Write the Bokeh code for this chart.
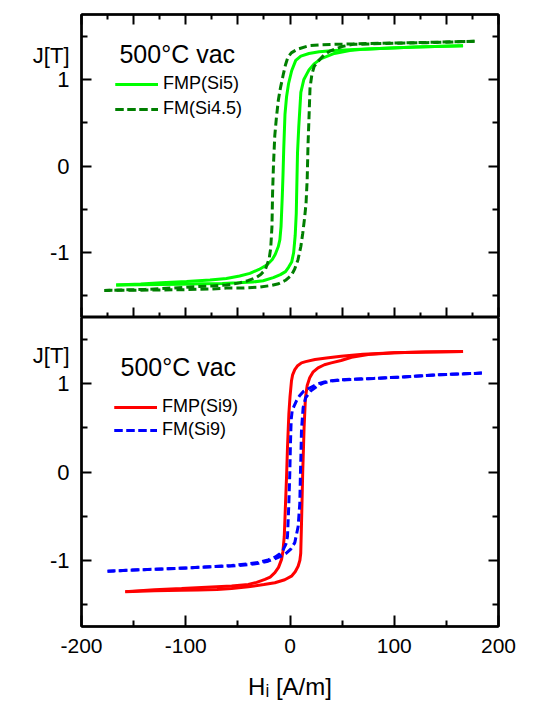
from bokeh.plotting import figure
from bokeh.models import Range1d, LinearAxis, FixedTicker, Legend, LegendItem, Label
from bokeh.layouts import column
from bokeh.embed import file_html
from bokeh.resources import INLINE

FONT = "Liberation Sans"

# ---------------- data: top panel (500°C vac) ----------------
# FMP(Si5) – descending branch
h_si5_down = [166, 121, 91.5, 62, 42.6, 28, 18.2, 10.4, 5.5, 1.6, -1.4, -3.3, -4.8, -6.0, -6.7,
              -7.4, -8.6, -9.7, -11.2, -14.1, -17, -21.9, -29.7, -38.5, -48.3, -61, -76.7,
              -99.2, -123.6, -143.2, -166.7]
j_si5_down = [1.39, 1.375, 1.36, 1.345, 1.335, 1.32, 1.30, 1.27, 1.22, 1.1, 0.95, 0.8, 0.6, 0.2,
              -0.1, -0.35, -0.7, -0.85, -0.93, -1.02, -1.08, -1.14, -1.195, -1.24, -1.27, -1.30,
              -1.318, -1.335, -1.35, -1.362, -1.375]
# FMP(Si5) – ascending branch
h_si5_up = [-166.7, -143.2, -123.6, -104.1, -84.5, -64.9, -50.3, -35.6, -25.8, -16.0, -9.2, -4.3,
            -1.4, 1.6, 3.5, 5.0, 6.0, 6.6, 7.2, 8.4, 10.4, 13.3, 18.2, 23.1, 29.9, 42.6, 57.3,
            72.0, 91.5, 121, 166]
j_si5_up = [-1.375, -1.372, -1.37, -1.365, -1.36, -1.356, -1.35, -1.34, -1.325, -1.29, -1.255,
            -1.22, -1.17, -1.11, -1.0, -0.8, -0.55, -0.2, 0.15, 0.45, 0.85, 1.0, 1.11, 1.18, 1.24,
            1.3, 1.335, 1.35, 1.36, 1.375, 1.39]
# FM(Si4.5) – descending branch
h_si45_down = [177, 121, 77, 42.6, 28.9, 18.2, 7.4, 1.6, -1.9, -4.3, -6.3, -9.2, -11.2, -13.1,
               -14.6, -15.8, -16.7, -17.3, -18.5, -20, -23.6, -27.8, -32.7, -40.5, -48.3, -61,
               -74.7, -92.3, -113.8, -138.3, -162.7, -178]
j_si45_down = [1.44, 1.425, 1.415, 1.405, 1.40, 1.39, 1.35, 1.31, 1.26, 1.17, 1.065, 0.9, 0.76,
               0.55, 0.35, 0.03, -0.31, -0.7, -0.95, -1.07, -1.195, -1.25, -1.29, -1.325, -1.35,
               -1.375, -1.385, -1.394, -1.41, -1.425, -1.432, -1.437]
# FM(Si4.5) – ascending branch
h_si45_up = [-178, -153, -124, -104, -75, -61, -45, -30, -18, -11, -4.3, 1.4, 4.5, 7.6, 10.4,
             12.2, 14, 15.4, 16.5, 17.3, 18.2, 19.2, 21, 23.2, 26.2, 32.5, 38.7, 50, 60.5, 91.5,
             131, 177]
j_si45_up = [-1.437, -1.435, -1.432, -1.43, -1.42, -1.41, -1.41, -1.40, -1.38, -1.36, -1.32,
             -1.26, -1.19, -1.085, -0.93, -0.78, -0.6, -0.43, -0.15, 0.25, 0.55, 0.9, 1.06, 1.15,
             1.2, 1.28, 1.33, 1.38, 1.405, 1.415, 1.425, 1.44]

# ---------------- data: bottom panel (500°C vac) ----------------
# FMP(Si9) – descending branch
h_si9p_down = [166, 130, 100, 70, 49, 35, 24, 15, 11, 7, 4.6, 2.5, 1.4, 0, -1.1, -2.4, -3.3,
               -4.3, -5.5, -6.8, -8.1, -11, -14.5, -19, -24, -32, -40, -56, -80, -104, -130, -158]
j_si9p_down = [1.366, 1.36, 1.35, 1.335, 1.31, 1.29, 1.274, 1.25, 1.236, 1.2, 1.16, 1.1, 1.03,
               0.85, 0.656, 0.28, -0.05, -0.355, -0.73, -0.9, -0.99, -1.08, -1.14, -1.19, -1.217,
               -1.25, -1.273, -1.29, -1.305, -1.32, -1.335, -1.355]
# FMP(Si9) – ascending branch
h_si9p_up = [-158, -130, -104, -88, -70, -56, -40, -25, -14.5, -5, 1.4, 5, 7.8, 9.5, 10.3, 11,
             11.6, 12.2, 13, 13.5, 14.8, 16.5, 18.9, 22, 26.9, 33, 39.6, 49, 59, 75, 100, 130, 166]
j_si9p_up = [-1.355, -1.345, -1.34, -1.337, -1.33, -1.32, -1.30, -1.275, -1.254, -1.22, -1.18,
             -1.13, -1.067, -1.0, -0.92, -0.6, -0.3, 0.0, 0.3, 0.5, 0.84, 0.98, 1.067, 1.13, 1.18,
             1.215, 1.236, 1.263, 1.30, 1.33, 1.35, 1.36, 1.366]
# FM(Si9) – descending branch
h_si9_down = [184, 140, 106, 80, 58.7, 49, 40, 33, 27, 22, 17, 12.6, 9, 6.2, 4, 2.1, 1.2, 0.8,
              0.3, -0.2, -1.1, -2.4, -4, -6.5, -10, -14.5, -21, -30, -40, -56, -72, -95, -120,
              -150, -175]
j_si9_down = [1.12, 1.10, 1.075, 1.06, 1.05, 1.045, 1.035, 1.02, 1.0, 0.97, 0.94, 0.91, 0.86,
              0.806, 0.75, 0.693, 0.6, 0.47, 0.25, -0.02, -0.355, -0.73, -0.82, -0.88, -0.93,
              -0.965, -0.995, -1.025, -1.04, -1.06, -1.07, -1.085, -1.097, -1.11, -1.124]
# FM(Si9) – ascending branch
h_si9_up = [-175, -150, -120, -95, -72, -56, -40, -30, -21, -14, -8, -3.3, 1, 4.6, 7.8, 9.4, 10,
            10.5, 11, 12.6, 15, 17.4, 20, 24, 27, 33, 40, 49, 58.7, 80, 106, 140, 184]
j_si9_up = [-1.124, -1.11, -1.097, -1.085, -1.07, -1.065, -1.05, -1.035, -1.01, -0.98, -0.95,
            -0.917, -0.87, -0.80, -0.618, -0.355, -0.02, 0.2, 0.47, 0.73, 0.84, 0.88, 0.92, 0.955,
            0.98, 1.011, 1.03, 1.04, 1.048, 1.06, 1.075, 1.10, 1.12]

# ---------------- ticks ----------------
y_major = [-1, 0, 1]
y_minor = [-1.5, -0.5, 0.5, 1.5]
y_labels = {-1: "-1", 0: "0", 1: "1"}
x_top_major = [-200, -150, -100, -50, 0, 50, 100, 150, 200]
x_top_minor = [-175, -125, -75, -25, 25, 75, 125, 175]
x_bot_major = [-200, -100, 0, 100, 200]
x_bot_minor = [-150, -50, 50, 150]
x_bot_labels = {-200: "-200", -100: "-100", 0: "0", 100: "100", 200: "200"}
y_title = "J[T]"
y_title_pos_top = 1.28
y_title_pos_bottom = 1.32


def tick_axis(values, length):
    """Axis that only draws inward tick marks (no labels)."""
    ax = LinearAxis(ticker=FixedTicker(ticks=[], minor_ticks=values))
    ax.axis_line_width = 2
    ax.axis_line_color = "black"
    ax.minor_tick_line_width = 2
    ax.minor_tick_line_color = "black"
    ax.minor_tick_in = length
    ax.minor_tick_out = 0
    ax.major_tick_in = 0
    ax.major_tick_out = 0
    ax.major_label_standoff = 0
    return ax


def label_axis(values, overrides, size, standoff):
    """Axis that only draws labels (no ticks, no line)."""
    ax = LinearAxis(ticker=FixedTicker(ticks=values, minor_ticks=[]))
    ax.axis_line_color = None
    ax.major_tick_line_color = None
    ax.minor_tick_line_color = None
    ax.major_tick_in = 0
    ax.major_tick_out = 0
    ax.minor_tick_in = 0
    ax.minor_tick_out = 0
    ax.major_label_overrides = overrides
    ax.major_label_text_font = FONT
    ax.major_label_text_font_size = size
    ax.major_label_text_color = "black"
    ax.major_label_standoff = standoff
    return ax


def base_fig(height, mb_left, mb_right, mb_top, mb_bottom):
    p = figure(width=518, height=height, x_range=Range1d(-200, 200), y_range=Range1d(-1.75, 1.75),
               output_backend="svg", toolbar_location=None, x_axis_location=None,
               y_axis_location=None, min_border_left=mb_left, min_border_right=mb_right,
               min_border_top=mb_top, min_border_bottom=mb_bottom,
               outline_line_color="black", outline_line_width=2, background_fill_color="white")
    p.grid.visible = False
    return p


def legend(items, loc, spacing):
    return Legend(items=items, location=loc, orientation="vertical", label_text_font=FONT,
                  label_text_font_size="18px", label_text_color="black", glyph_width=43,
                  glyph_height=20, label_height=20, label_standoff=5, spacing=spacing, padding=0,
                  margin=0, border_line_alpha=0, background_fill_alpha=0)


# ---------------- top figure ----------------
p1 = base_fig(317, 81, 9, 14, 0)
p1.add_layout(tick_axis(y_major, 10), "left")
p1.add_layout(tick_axis(y_minor, 6), "left")
top_lbl = dict(y_labels)
top_lbl[y_title_pos_top] = y_title
p1.add_layout(label_axis(y_major + [y_title_pos_top], top_lbl, "22px", 12), "left")
p1.add_layout(tick_axis(y_major, 10), "right")
p1.add_layout(tick_axis(y_minor, 6), "right")
p1.add_layout(tick_axis(x_top_major, 10), "above")
p1.add_layout(tick_axis(x_top_minor, 5), "above")
p1.add_layout(tick_axis(x_top_major, 10), "below")
p1.add_layout(tick_axis(x_top_minor, 5), "below")

GREEN = "#00ff00"
DKGREEN = "#007f00"
g1 = p1.line(h_si5_down, j_si5_down, line_color=GREEN, line_width=3)
g2 = p1.line(h_si5_up, j_si5_up, line_color=GREEN, line_width=3)
d1 = p1.line(h_si45_down, j_si45_down, line_color=DKGREEN, line_width=3, line_dash="8 4")
d2 = p1.line(h_si45_up, j_si45_up, line_color=DKGREEN, line_width=3, line_dash="8 4")

p1.add_layout(legend([LegendItem(label="FMP(Si5)", renderers=[g1, g2]),
                      LegendItem(label="FM(Si4.5)", renderers=[d1, d2])], (34, 198), 4))
p1.add_layout(Label(x=-163.6, y=1.29, text="500°C vac", text_align="left",
                    text_baseline="alphabetic", text_font=FONT, text_font_size="25px",
                    text_color="black"))

# ---------------- bottom figure ----------------
p2 = base_fig(385, 80, 20, 0, 75)
p2.add_layout(tick_axis(y_major, 10), "left")
p2.add_layout(tick_axis(y_minor, 6), "left")
bot_lbl = dict(y_labels)
bot_lbl[y_title_pos_bottom] = y_title
p2.add_layout(label_axis(y_major + [y_title_pos_bottom], bot_lbl, "22px", 12), "left")
p2.add_layout(tick_axis(y_major, 10), "right")
p2.add_layout(tick_axis(y_minor, 6), "right")
p2.add_layout(tick_axis(x_bot_major, 11), "below")
p2.add_layout(tick_axis(x_bot_minor, 6), "below")
xb = label_axis(x_bot_major, x_bot_labels, "21px", 12)
xb.axis_label = "Hᵢ [A/m]"
xb.axis_label_text_font = FONT
xb.axis_label_text_font_size = "24px"
xb.axis_label_text_font_style = "normal"
xb.axis_label_text_color = "black"
xb.axis_label_standoff = 17
p2.add_layout(xb, "below")

RED = "#ff0000"
BLUE = "#0000ff"
r1 = p2.line(h_si9p_down, j_si9p_down, line_color=RED, line_width=3)
r2 = p2.line(h_si9p_up, j_si9p_up, line_color=RED, line_width=3)
b1 = p2.line(h_si9_down, j_si9_down, line_color=BLUE, line_width=3, line_dash="8 4")
b2 = p2.line(h_si9_up, j_si9_up, line_color=BLUE, line_width=3, line_dash="8 4")

p2.add_layout(legend([LegendItem(label="FMP(Si9)", renderers=[r1, r2]),
                      LegendItem(label="FM(Si9)", renderers=[b1, b2])], (33, 186), 2))
p2.add_layout(Label(x=-162.6, y=1.19, text="500°C vac", text_align="left",
                    text_baseline="alphabetic", text_font=FONT, text_font_size="25px",
                    text_color="black"))

layout = column(p1, p2, spacing=0)
open("out.html", "w").write(file_html(layout, INLINE))
